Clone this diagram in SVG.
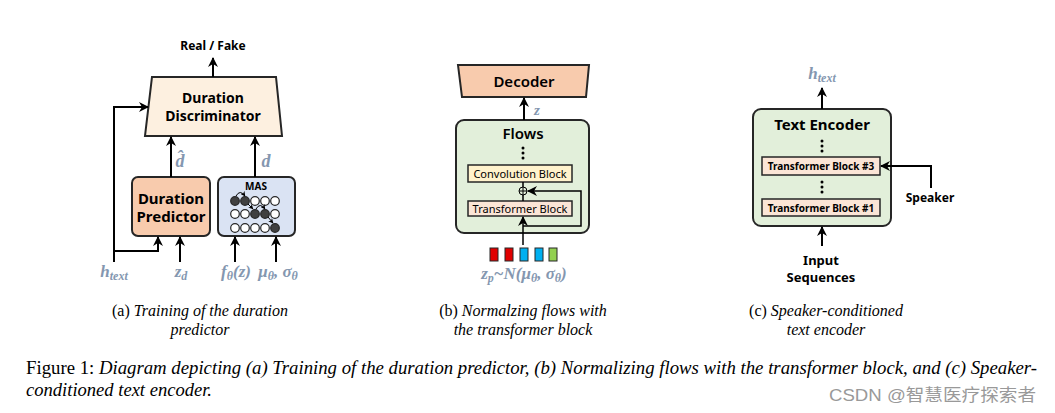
<svg xmlns="http://www.w3.org/2000/svg" width="1055" height="413" viewBox="0 0 1055 413">
<style>
.lbl{font-family:"Noto Sans","Open Sans",sans-serif;fill:#000;text-anchor:middle}
.b{font-weight:bold}
.math{font-family:"Liberation Serif",serif;font-style:italic;font-weight:bold;fill:#8497b0;text-anchor:middle}
.cap{font-family:"Liberation Serif",serif;fill:#000;font-size:16px;text-anchor:middle}
.it{font-style:italic}
.ln{fill:none;stroke:#000;stroke-width:2}
.box{stroke:#262626;stroke-width:2}
</style>
<defs>
<marker id="ah" markerUnits="userSpaceOnUse" markerWidth="10" markerHeight="10" viewBox="0 0 10 10" refX="9" refY="5" orient="auto">
<path d="M0,0 L10,5 L0,10 L3,5 z" fill="#000"/>
</marker>
<marker id="sm" markerUnits="userSpaceOnUse" markerWidth="5" markerHeight="5" viewBox="0 0 10 10" refX="9" refY="5" orient="auto">
<path d="M0,0 L10,5 L0,10 L3,5 z" fill="#000"/>
</marker>
</defs>
<rect width="1055" height="413" fill="#fff"/>

<!-- Panel (a) -->
<g id="real-fake"><text class="lbl b" x="213" y="50" font-size="12">Real / Fake</text></g>
<g id="duration-discriminator">
<polygon class="box" points="152,77 276,77 282,136 145,136" fill="#fdf0e0"/>
<text class="lbl b" x="213" y="103" font-size="14">Duration</text>
<text class="lbl b" x="213" y="121" font-size="14">Discriminator</text>
</g>
<g id="duration-predictor">
<rect class="box" x="132" y="177" width="78" height="59" rx="6" fill="#f8cbad"/>
<text class="lbl b" x="171" y="204" font-size="15">Duration</text>
<text class="lbl b" x="171" y="222" font-size="15">Predictor</text>
</g>
<g id="mas">
<rect class="box" x="218" y="177" width="77" height="59" rx="6" fill="#dae3f3"/>
<text class="lbl b" x="256" y="190" font-size="10">MAS</text>
<g stroke="#262626" stroke-width="1.2">
<circle cx="235" cy="201" r="4.3" fill="#404040"/><circle cx="245" cy="201" r="4.3" fill="#404040"/><circle cx="255" cy="201" r="4.3" fill="#fff"/><circle cx="265" cy="201" r="4.3" fill="#fff"/><circle cx="275" cy="201" r="4.3" fill="#fff"/>
<circle cx="235" cy="214" r="4.3" fill="#fff"/><circle cx="245" cy="214" r="4.3" fill="#fff"/><circle cx="255" cy="214" r="4.3" fill="#404040"/><circle cx="265" cy="214" r="4.3" fill="#404040"/><circle cx="275" cy="214" r="4.3" fill="#fff"/>
<circle cx="235" cy="228" r="4.3" fill="#fff"/><circle cx="245" cy="228" r="4.3" fill="#fff"/><circle cx="255" cy="228" r="4.3" fill="#fff"/><circle cx="265" cy="228" r="4.3" fill="#fff"/><circle cx="275" cy="228" r="4.3" fill="#404040"/>
</g>
<g fill="none" stroke="#000" stroke-width="1">
<path d="M236,196 Q240,189 245,196" marker-end="url(#sm)"/>
<path d="M248,204 L253,209" marker-end="url(#sm)"/>
<path d="M256,209 Q260,202 265,209" marker-end="url(#sm)"/>
<path d="M268,217 L273,223" marker-end="url(#sm)"/>
</g>
</g>
<g id="labels-a">
<text class="math" x="114" y="277" font-size="17">h<tspan font-size="12" dy="3">text</tspan></text>
<text class="math" x="181" y="277" font-size="17">z<tspan font-size="12" dy="3">d</tspan></text>
<text class="math" x="236" y="277" font-size="17">f<tspan font-size="12" dy="3">θ</tspan><tspan dy="-3">(z)</tspan></text>
<text class="math" x="278" y="277" font-size="17">μ<tspan font-size="12" dy="3">θ</tspan><tspan dy="-3">, σ</tspan><tspan font-size="12" dy="3">θ</tspan></text>
<text class="math" x="180" y="167" font-size="18">d̂</text>
<text class="math" x="266" y="167" font-size="18">d</text>
</g>

<!-- Panel (b) -->
<g id="decoder">
<polygon class="box" points="458,65 589,65 586,97 462,97" fill="#f8cbad"/>
<text class="lbl" x="524" y="87" font-size="15" font-weight="600">Decoder</text>
</g>
<g id="flows">
<rect class="box" x="456" y="120" width="133" height="113" rx="8" fill="#e2efda"/>
<text class="lbl" x="523" y="139" font-size="15" font-weight="600">Flows</text>
<g fill="#000"><circle cx="523" cy="148" r="1.5"/><circle cx="523" cy="153" r="1.5"/><circle cx="523" cy="158" r="1.5"/></g>
</g>
<g id="convolution-block">
<rect x="468" y="165" width="104" height="17" fill="#fff2cc" stroke="#262626" stroke-width="1.5"/>
<text class="lbl" x="520" y="178" font-size="11">Convolution Block</text>
</g>
<g id="transformer-block">
<rect x="468" y="201" width="104" height="15" fill="#fbe5d6" stroke="#262626" stroke-width="1.5"/>
<text class="lbl" x="520" y="213" font-size="11">Transformer Block</text>
</g>
<g id="plus">
<circle cx="523" cy="191" r="4" fill="none" stroke="#000" stroke-width="1"/>
<path d="M519,191 H527 M523,187 V195" stroke="#000" stroke-width="1"/>
</g>
<g id="latent">
<rect x="490" y="248" width="8" height="13" fill="#e00000" stroke="#262626" stroke-width="1"/>
<rect x="505" y="248" width="8" height="13" fill="#e00000" stroke="#262626" stroke-width="1"/>
<rect x="520" y="248" width="8" height="13" fill="#00b0f0" stroke="#262626" stroke-width="1"/>
<rect x="535" y="248" width="8" height="13" fill="#00b0f0" stroke="#262626" stroke-width="1"/>
<rect x="549" y="248" width="8" height="13" fill="#92d050" stroke="#262626" stroke-width="1"/>
<text class="math" x="524" y="279" font-size="17">z<tspan font-size="12" dy="3">p</tspan><tspan dy="-3">~N(μ</tspan><tspan font-size="12" dy="3">θ</tspan><tspan dy="-3">, σ</tspan><tspan font-size="12" dy="3">θ</tspan><tspan dy="-3">)</tspan></text>
<text class="math" x="537" y="115" font-size="15">z</text>
</g>

<!-- Panel (c) -->
<g id="text-encoder">
<rect class="box" x="753" y="109" width="138" height="117" rx="8" fill="#e2efda"/>
<text class="lbl b" x="822" y="130" font-size="15">Text Encoder</text>
<g fill="#000"><circle cx="822" cy="141" r="1.5"/><circle cx="822" cy="146" r="1.5"/><circle cx="822" cy="151" r="1.5"/>
<circle cx="822" cy="182" r="1.5"/><circle cx="822" cy="187" r="1.5"/><circle cx="822" cy="192" r="1.5"/></g>
</g>
<g id="transformer-block-3">
<rect x="762" y="157" width="118" height="18" fill="#fbe5d6" stroke="#262626" stroke-width="1.5"/>
<text class="lbl b" x="821" y="170" font-size="10">Transformer Block #3</text>
</g>
<g id="transformer-block-1">
<rect x="762" y="199" width="118" height="17" fill="#fbe5d6" stroke="#262626" stroke-width="1.5"/>
<text class="lbl b" x="821" y="212" font-size="10">Transformer Block #1</text>
</g>
<g id="labels-c">
<text class="math" x="822" y="79" font-size="17">h<tspan font-size="12" dy="3">text</tspan></text>
<text class="lbl b" x="930" y="202" font-size="12">Speaker</text>
<text class="lbl b" x="821" y="265" font-size="13">Input</text>
<text class="lbl b" x="821" y="282" font-size="13">Sequences</text>
</g>

<!-- Connectors -->
<g id="connectors" class="ln">
<path d="M213,77 V58" marker-end="url(#ah)"/>
<path d="M114,262 V107 H148" marker-end="url(#ah)"/>
<path d="M114,251 H158 V237" marker-end="url(#ah)"/>
<path d="M180,262 V237" marker-end="url(#ah)"/>
<path d="M235,262 V237" marker-end="url(#ah)"/>
<path d="M276,262 V237" marker-end="url(#ah)"/>
<path d="M171,177 V137" marker-end="url(#ah)"/>
<path d="M255,177 V137" marker-end="url(#ah)"/>
<path d="M524,120 V98" marker-end="url(#ah)"/>
<path d="M523,245 V217" marker-end="url(#ah)" stroke-width="1.5"/>
<path d="M523,226 H581 V191 H528" marker-end="url(#ah)" stroke-width="1.5"/>
<path d="M523,201 V195 M523,187 V182" stroke-width="1.5"/>
<path d="M822,109 V88" marker-end="url(#ah)"/>
<path d="M822,246 V227" marker-end="url(#ah)"/>
<path d="M931,188 V166 H881" marker-end="url(#ah)"/>
</g>

<!-- Captions -->
<g id="captions">
<text class="cap" x="200" y="316">(a) <tspan class="it">Training of the duration</tspan></text>
<text class="cap it" x="200" y="335">predictor</text>
<text class="cap" x="523" y="316">(b) <tspan class="it">Normalzing flows with</tspan></text>
<text class="cap it" x="523" y="335">the transformer block</text>
<text class="cap" x="826" y="316">(c) <tspan class="it">Speaker-conditioned</tspan></text>
<text class="cap it" x="826" y="335">text encoder</text>
<text font-family="Liberation Serif, serif" font-size="19" x="26" y="374" textLength="1011" lengthAdjust="spacingAndGlyphs">Figure 1: <tspan font-style="italic">Diagram depicting (a) Training of the duration predictor, (b) Normalizing flows with the transformer block, and (c) Speaker-</tspan></text>
<text font-family="Liberation Serif, serif" font-size="19" font-style="italic" x="26" y="396" textLength="186" lengthAdjust="spacingAndGlyphs">conditioned text encoder.</text>
<text font-family="'Liberation Sans','Noto Sans CJK SC',sans-serif" font-size="17" fill="#999" x="829" y="401" textLength="207" lengthAdjust="spacingAndGlyphs">CSDN @智慧医疗探索者</text>
</g>
</svg>
